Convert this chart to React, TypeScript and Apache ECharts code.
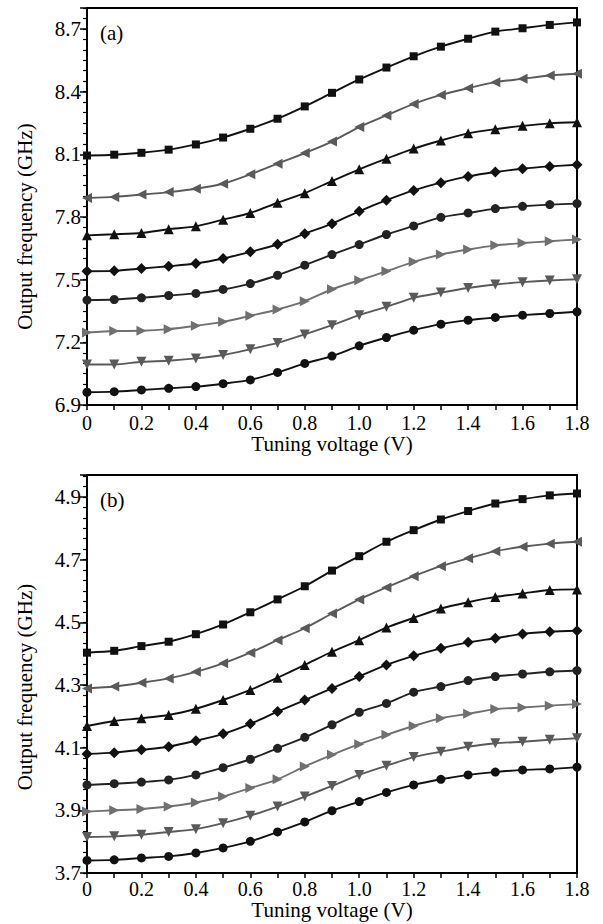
import React, { useEffect, useRef } from "react";
import * as echarts from "echarts";

const voltage = [0, 0.1, 0.2, 0.3, 0.4, 0.5, 0.6, 0.7, 0.8, 0.9, 1.0, 1.1, 1.2, 1.3, 1.4, 1.5, 1.6, 1.7, 1.8];

// Panel (a)
const aSquare = [8.094, 8.098, 8.107, 8.122, 8.147, 8.18, 8.222, 8.27, 8.329, 8.394, 8.458, 8.515, 8.569, 8.615, 8.653, 8.687, 8.703, 8.719, 8.731];
const aLeftTri = [7.891, 7.896, 7.907, 7.919, 7.935, 7.959, 8.004, 8.055, 8.106, 8.161, 8.23, 8.286, 8.341, 8.384, 8.416, 8.445, 8.461, 8.477, 8.485];
const aUpTri = [7.712, 7.717, 7.723, 7.741, 7.755, 7.787, 7.819, 7.868, 7.914, 7.972, 8.028, 8.079, 8.127, 8.166, 8.2, 8.22, 8.236, 8.248, 8.253];
const aDiamond = [7.54, 7.542, 7.553, 7.564, 7.577, 7.601, 7.633, 7.669, 7.72, 7.768, 7.827, 7.88, 7.927, 7.964, 7.994, 8.015, 8.031, 8.042, 8.05];
const aCircle = [7.402, 7.405, 7.413, 7.424, 7.434, 7.453, 7.481, 7.521, 7.569, 7.62, 7.668, 7.716, 7.757, 7.798, 7.819, 7.84, 7.851, 7.859, 7.864];
const aRightTri = [7.247, 7.254, 7.255, 7.263, 7.279, 7.298, 7.327, 7.357, 7.397, 7.454, 7.497, 7.54, 7.585, 7.62, 7.644, 7.664, 7.675, 7.684, 7.692];
const aDownTri = [7.094, 7.094, 7.107, 7.112, 7.123, 7.139, 7.167, 7.197, 7.238, 7.282, 7.33, 7.37, 7.413, 7.438, 7.46, 7.477, 7.488, 7.496, 7.502];
const aDot = [6.961, 6.964, 6.972, 6.98, 6.988, 7.002, 7.02, 7.056, 7.099, 7.134, 7.183, 7.223, 7.258, 7.287, 7.306, 7.319, 7.33, 7.338, 7.346];

// Panel (b)
const bSquare = [4.403, 4.409, 4.424, 4.438, 4.462, 4.493, 4.532, 4.573, 4.615, 4.665, 4.711, 4.757, 4.794, 4.828, 4.855, 4.879, 4.893, 4.905, 4.911];
const bLeftTri = [4.289, 4.295, 4.307, 4.321, 4.342, 4.369, 4.403, 4.443, 4.481, 4.528, 4.573, 4.611, 4.647, 4.679, 4.704, 4.727, 4.741, 4.751, 4.757];
const bUpTri = [4.169, 4.185, 4.194, 4.204, 4.224, 4.252, 4.284, 4.323, 4.364, 4.406, 4.443, 4.483, 4.514, 4.544, 4.564, 4.581, 4.592, 4.603, 4.605];
const bDiamond = [4.08, 4.084, 4.093, 4.103, 4.122, 4.144, 4.176, 4.215, 4.252, 4.289, 4.327, 4.364, 4.393, 4.417, 4.436, 4.449, 4.463, 4.47, 4.473];
const bCircle = [3.981, 3.985, 3.99, 3.997, 4.013, 4.036, 4.063, 4.098, 4.133, 4.173, 4.213, 4.241, 4.277, 4.295, 4.314, 4.327, 4.335, 4.342, 4.346];
const bRightTri = [3.896, 3.9, 3.904, 3.912, 3.925, 3.944, 3.971, 3.999, 4.04, 4.077, 4.111, 4.141, 4.169, 4.194, 4.208, 4.223, 4.228, 4.234, 4.239];
const bDownTri = [3.815, 3.817, 3.822, 3.831, 3.84, 3.859, 3.883, 3.912, 3.944, 3.978, 4.013, 4.042, 4.07, 4.087, 4.103, 4.114, 4.119, 4.125, 4.13];
const bDot = [3.74, 3.742, 3.748, 3.753, 3.764, 3.78, 3.801, 3.831, 3.863, 3.899, 3.928, 3.957, 3.981, 3.999, 4.013, 4.022, 4.029, 4.032, 4.038];

const xTicks = ["0", "0.2", "0.4", "0.6", "0.8", "1.0", "1.2", "1.4", "1.6", "1.8"];
const aYTicks = ["6.9", "7.2", "7.5", "7.8", "8.1", "8.4", "8.7"];
const bYTicks = ["3.7", "3.9", "4.1", "4.3", "4.5", "4.7", "4.9"];

const FONT = "Liberation Serif";
const BLACK = "#111111";
const GRAY = "#5a5a5a";
const LIGHTGRAY = "#707070";

const styles = [
  { data: [aSquare, bSquare], symbol: "rect", size: 8, rotate: 0, color: BLACK },
  { data: [aLeftTri, bLeftTri], symbol: "triangle", size: 10, rotate: 90, color: GRAY },
  { data: [aUpTri, bUpTri], symbol: "triangle", size: 10, rotate: 0, color: BLACK },
  { data: [aDiamond, bDiamond], symbol: "diamond", size: 11, rotate: 0, color: BLACK },
  { data: [aCircle, bCircle], symbol: "circle", size: 9, rotate: 0, color: "#222222" },
  { data: [aRightTri, bRightTri], symbol: "triangle", size: 10, rotate: -90, color: LIGHTGRAY },
  { data: [aDownTri, bDownTri], symbol: "triangle", size: 10, rotate: 180, color: GRAY },
  { data: [aDot, bDot], symbol: "circle", size: 9, rotate: 0, color: BLACK },
];

function xAxis(gridIndex: number, labelMargin: number, nameGap: number) {
  return {
    type: "value",
    gridIndex,
    min: 0,
    max: 1.8,
    interval: 0.2,
    name: "Tuning voltage (V)",
    nameLocation: "middle",
    nameGap,
    nameTextStyle: { fontFamily: FONT, fontSize: 21, color: "#000", verticalAlign: "top" },
    axisLine: { show: true, onZero: false, lineStyle: { color: "#000", width: 2 } },
    axisTick: { show: true, inside: false, length: 5, lineStyle: { color: "#000", width: 1.5 } },
    minorTick: { show: true, splitNumber: 2, length: 5, lineStyle: { color: "#000", width: 1.5 } },
    splitLine: { show: false },
    minorSplitLine: { show: false },
    axisLabel: {
      margin: labelMargin,
      fontFamily: FONT,
      fontSize: 20,
      color: "#000",
      formatter: (v: number) => {
        const i = Math.round(v / 0.2);
        return Math.abs(v - i * 0.2) < 1e-6 ? xTicks[i] ?? "" : "";
      },
    },
  };
}

function yMajor(gridIndex: number, min: number, max: number, interval: number, ticks: string[], shift: number) {
  return {
    type: "value",
    gridIndex,
    position: "left",
    min,
    max,
    interval,
    name: "Output frequency (GHz)",
    nameLocation: "middle",
    nameGap: 52,
    nameTextStyle: { fontFamily: FONT, fontSize: 21, color: "#000", padding: [0, shift, 0, 0] },
    axisLine: { show: true, onZero: false, lineStyle: { color: "#000", width: 2 } },
    axisTick: { show: true, inside: false, length: 7, lineStyle: { color: "#000", width: 1.5 } },
    splitLine: { show: false },
    axisLabel: {
      margin: 6,
      fontFamily: FONT,
      fontSize: 21,
      color: "#000",
      showMaxLabel: true,
      formatter: (v: number) => {
        const k = (v - min) / interval;
        const i = Math.round(k);
        return Math.abs(k - i) < 1e-6 ? ticks[i] ?? "" : "";
      },
    },
  };
}

function yMinor(gridIndex: number, min: number, max: number, interval: number) {
  return {
    type: "value",
    gridIndex,
    position: "left",
    min,
    max,
    interval,
    axisLine: { show: false, onZero: false },
    axisTick: { show: true, inside: false, length: 4, lineStyle: { color: "#000", width: 1.2 } },
    axisLabel: { show: false },
    splitLine: { show: false },
  };
}

export default function App() {
  const ref = useRef<HTMLDivElement>(null);

  useEffect(() => {
    if (!ref.current) return;
    const chart = echarts.init(ref.current, undefined, { renderer: "svg" });

    const series: any[] = [];
    styles.forEach((s, idx) => {
      [0, 1].forEach((p) => {
        series.push({
          type: "line",
          name: `p${p}s${idx}`,
          xAxisIndex: p,
          yAxisIndex: p === 0 ? 0 : 2,
          data: voltage.map((x, i) => [x, s.data[p][i]]),
          symbol: s.symbol,
          symbolSize: s.size,
          symbolRotate: s.rotate,
          smooth: 0.25,
          clip: false,
          lineStyle: { color: s.color, width: 1.9 },
          itemStyle: { color: s.color },
        });
      });
    });

    chart.setOption({
      animation: false,
      backgroundColor: "#ffffff",
      grid: [
        { left: 87, top: 8, width: 490, height: 397, show: true, borderColor: "#000", borderWidth: 2, backgroundColor: "transparent" },
        { left: 87, top: 475, width: 490, height: 398, show: true, borderColor: "#000", borderWidth: 2, backgroundColor: "transparent" },
      ],
      xAxis: [xAxis(0, 8, 28), xAxis(1, 6, 23)],
      yAxis: [
        yMajor(0, 6.9, 8.8, 0.3, aYTicks, 40),
        yMinor(0, 6.9, 8.8, 0.05),
        yMajor(1, 3.7, 4.97, 0.2, bYTicks, 26),
        yMinor(1, 3.7, 4.97, 0.2 / 6),
      ],
      graphic: [
        { type: "text", left: 100, top: 22, style: { text: "(a)", fontFamily: FONT, fontSize: 21, fill: "#000" } },
        { type: "text", left: 100, top: 489, style: { text: "(b)", fontFamily: FONT, fontSize: 21, fill: "#000" } },
      ],
      series,
    });

    return () => chart.dispose();
  }, []);

  return (
    <div
      ref={ref}
      style={{ position: "fixed", left: 0, top: 0, width: 603, height: 924, background: "#fff" }}
    />
  );
}
